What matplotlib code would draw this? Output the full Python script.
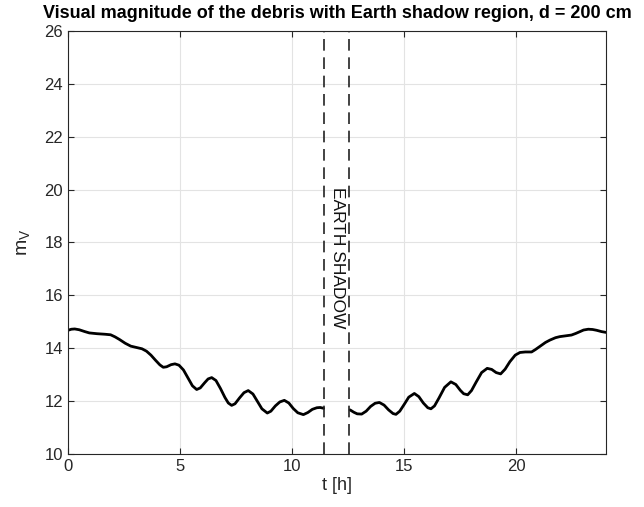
import matplotlib
matplotlib.use("Agg")
import matplotlib.pyplot as plt

# Visual magnitude curve before the Earth shadow region
t_before = [0.00, 0.15, 0.30, 0.50, 0.75, 0.95, 1.30, 1.65, 1.90, 2.10, 2.30, 2.55, 2.80, 3.05,
            3.30, 3.50, 3.70, 3.90, 4.10, 4.25, 4.40, 4.60, 4.77, 4.95, 5.15, 5.35, 5.55, 5.74,
            5.90, 6.10, 6.25, 6.41, 6.60, 6.80, 7.00, 7.15, 7.30, 7.45, 7.65, 7.85, 8.04, 8.25,
            8.45, 8.65, 8.89, 9.05, 9.25, 9.45, 9.65, 9.85, 10.05, 10.25, 10.50, 10.70, 10.90,
            11.10, 11.25, 11.40]
mv_before = [14.68, 14.72, 14.73, 14.70, 14.63, 14.58, 14.55, 14.53, 14.51, 14.43, 14.33, 14.19,
             14.08, 14.03, 13.98, 13.89, 13.74, 13.55, 13.37, 13.28, 13.30, 13.38, 13.41, 13.36,
             13.18, 12.88, 12.58, 12.44, 12.50, 12.70, 12.84, 12.89, 12.78, 12.48, 12.14, 11.93,
             11.84, 11.90, 12.12, 12.32, 12.40, 12.27, 11.99, 11.71, 11.55, 11.62, 11.82, 11.97,
             12.03, 11.93, 11.72, 11.56, 11.49, 11.57, 11.69, 11.75, 11.76, 11.73]

# Visual magnitude curve after the Earth shadow region
t_after = [12.58, 12.75, 12.90, 13.10, 13.30, 13.50, 13.70, 13.89, 14.10, 14.30, 14.50, 14.63,
           14.80, 15.00, 15.20, 15.45, 15.65, 15.85, 16.05, 16.19, 16.35, 16.55, 16.80, 17.08,
           17.30, 17.50, 17.65, 17.83, 18.00, 18.20, 18.45, 18.70, 18.90, 19.10, 19.30, 19.50,
           19.71, 19.95, 20.16, 20.40, 20.68, 20.85, 21.05, 21.30, 21.50, 21.75, 21.94, 22.20,
           22.46, 22.65, 22.84, 23.00, 23.21, 23.40, 23.58, 23.80, 24.00]
mv_after = [11.67, 11.58, 11.52, 11.51, 11.62, 11.80, 11.92, 11.95, 11.85, 11.67, 11.53, 11.50,
            11.62, 11.88, 12.15, 12.29, 12.17, 11.93, 11.75, 11.71, 11.82, 12.12, 12.52, 12.73,
            12.63, 12.41, 12.28, 12.24, 12.40, 12.71, 13.08, 13.24, 13.20, 13.08, 13.03, 13.21,
            13.49, 13.74, 13.84, 13.86, 13.86, 13.95, 14.07, 14.22, 14.31, 14.40, 14.44, 14.47,
            14.50, 14.56, 14.63, 14.69, 14.72, 14.71, 14.68, 14.63, 14.60]

shadow_bounds = [11.42, 12.55]
x_ticks = [0, 5, 10, 15, 20]
y_ticks = [10, 12, 14, 16, 18, 20, 22, 24, 26]

plt.rcParams['font.family'] = ['Liberation Sans', 'DejaVu Sans']
axcol = '#262626'

fig = plt.figure(figsize=(6.44, 5.07), dpi=100)
ax = fig.add_axes([0.1056, 0.1045, 0.8354, 0.8344])

ax.plot(t_before, mv_before, color='black', lw=2.0, solid_capstyle='round')
ax.plot(t_after, mv_after, color='black', lw=2.0, solid_capstyle='round')
for xb in shadow_bounds:
    ax.axvline(xb, color='#222222', lw=1.2, ls=(0, (7, 4)))

ax.text(sum(shadow_bounds) / 2 + 0.05, 20.1, 'EARTH SHADOW', rotation=-90, ha='center', va='top',
        fontsize=12.5, color='#111111')

ax.set_xlim(0, 24)
ax.set_ylim(10, 26)
ax.set_xticks(x_ticks)
ax.set_yticks(y_ticks)
ax.grid(True, color='#e3e3e3', lw=0.8)
ax.set_axisbelow(True)
ax.tick_params(direction='in', top=True, right=True, labelsize=12, colors=axcol, length=4, width=0.8)
for s in ax.spines.values():
    s.set_color(axcol)
    s.set_linewidth(0.8)

ax.set_xlabel('t [h]', fontsize=13, color=axcol, labelpad=2)
ax.set_ylabel('m$_\\mathregular{V}$', fontsize=14, color=axcol, labelpad=8)
ax.set_title('Visual magnitude of the debris with Earth shadow region, d = 200 cm',
             fontsize=13, fontweight='bold', color='black', pad=9)

fig.savefig('out.png', dpi=100)
